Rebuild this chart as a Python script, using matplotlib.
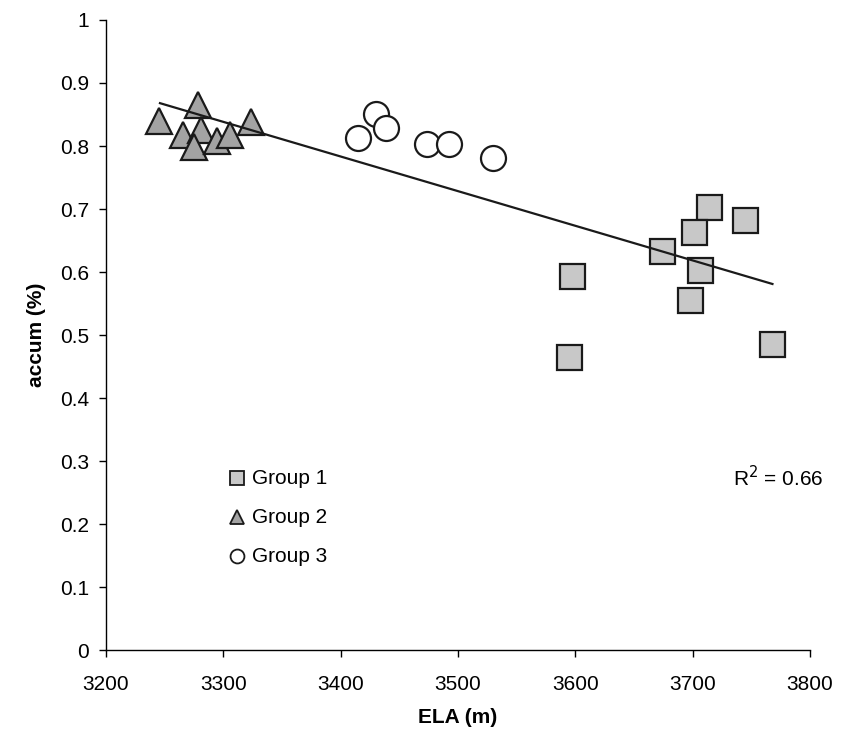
import matplotlib
matplotlib.use("Agg")
import matplotlib.pyplot as plt

# Group 1 (squares)
g1_ela = [3714, 3745, 3701, 3674, 3706, 3597, 3698, 3595, 3768]
g1_acc = [0.703, 0.683, 0.664, 0.634, 0.603, 0.594, 0.556, 0.465, 0.486]

# Group 2 (triangles)
g2_ela = [3245, 3278, 3266, 3281, 3275, 3295, 3306, 3324]
g2_acc = [0.84, 0.865, 0.817, 0.825, 0.798, 0.808, 0.818, 0.838]

# Group 3 (circles)
g3_ela = [3415, 3430, 3439, 3474, 3492, 3530]
g3_acc = [0.813, 0.851, 0.829, 0.803, 0.803, 0.781]

# linear trend (end points)
trend_ela = [3246, 3768]
trend_acc = [0.868, 0.581]
r2 = 0.66

plt.rcParams['font.family'] = ['Liberation Sans', 'DejaVu Sans']

fig = plt.figure(figsize=(8.44, 7.35), dpi=100)
ax = fig.add_axes([0.1256, 0.1156, 0.8341, 0.8572])

edge = '#1a1a1a'
ax.plot(g1_ela, g1_acc, 's', ms=18, mfc='#c8c8c8', mec=edge, mew=1.6, zorder=3)
ax.plot(g2_ela, g2_acc, '^', ms=19, mfc='#a3a3a3', mec=edge, mew=1.6, zorder=3)
ax.plot(g3_ela, g3_acc, 'o', ms=18, mfc='white', mec=edge, mew=1.6, zorder=3)
ax.plot(trend_ela, trend_acc, '-', color=edge, lw=1.6, zorder=4)

ax.set_xlim(3200, 3800)
ax.set_ylim(0, 1)
ax.set_xticks(range(3200, 3801, 100))
ax.set_yticks([i / 10 for i in range(11)])
ax.set_yticklabels(['0', '0.1', '0.2', '0.3', '0.4', '0.5', '0.6', '0.7', '0.8', '0.9', '1'])
ax.tick_params(labelsize=15, direction='out', length=5, width=1, pad=7)
ax.tick_params(axis='x', pad=13)
for s in ['top', 'right']:
    ax.spines[s].set_visible(False)
for s in ['left', 'bottom']:
    ax.spines[s].set_linewidth(1)

ax.set_xlabel('ELA (m)', fontsize=15, fontweight='bold', labelpad=10)
ax.set_ylabel('accum (%)', fontsize=15, fontweight='bold', labelpad=10)

# legend drawn by hand like the original
legend_items = [('s', '#c8c8c8', 'Group 1'), ('^', '#a3a3a3', 'Group 2'), ('o', 'white', 'Group 3')]
for i, (m, fc, lab) in enumerate(legend_items):
    yy = 0.273 - i * 0.062
    ax.plot([0.186], [yy], m, ms=10, mfc=fc, mec=edge, mew=1.3,
            transform=ax.transAxes, clip_on=False)
    ax.text(0.207, yy, lab, fontsize=15, va='center', transform=ax.transAxes)

ax.text(0.891, 0.273, 'R$^2$ = %.2f' % r2, fontsize=15, va='center',
        transform=ax.transAxes)

fig.savefig('out.png', dpi=100)
